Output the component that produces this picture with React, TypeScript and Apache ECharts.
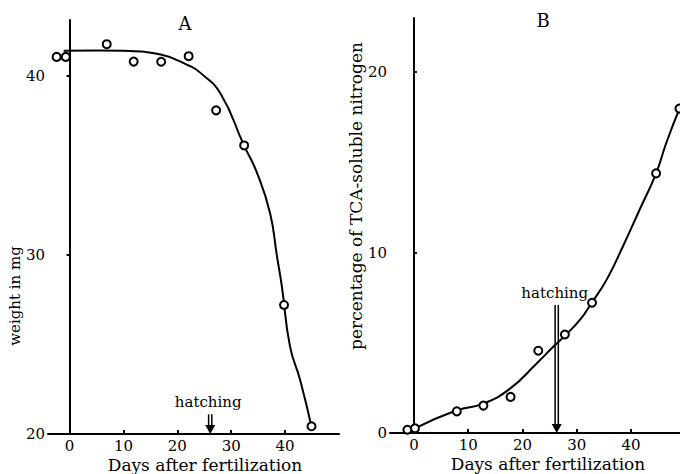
import React, { useEffect, useRef } from "react";
import * as echarts from "echarts";

// Panel A: weight (mg) vs days after fertilization
const daysA = [-2.4, -0.7, 6.9, 11.9, 17.0, 22.1, 27.2, 32.4, 39.8, 44.9];
const weightA = [41.04, 41.04, 41.75, 40.78, 40.77, 41.08, 38.06, 36.1, 27.2, 20.43];
const curveDaysA = [-1.1, 5, 10, 16.9, 22.4, 24.3, 28.0, 32.3, 34.8, 37.2, 38.5, 39.4, 40.9, 42.8, 44.9];
const curveWeightA = [41.38, 41.4, 41.38, 41.17, 40.52, 40.15, 39.0, 36.15, 34.56, 32.33, 29.9, 28.23, 24.9, 23.0, 20.4];

// Panel B: percentage of TCA-soluble nitrogen
const daysB = [-1.2, 0.2, 7.9, 12.8, 17.8, 22.9, 27.8, 32.8, 44.6, 48.9];
const tcaB = [0.18, 0.26, 1.2, 1.52, 2.0, 4.56, 5.46, 7.22, 14.39, 17.98];
const curveDaysB = [0.2, 7.9, 12.8, 17.7, 22.6, 25.7, 27.8, 30.6, 32.7, 35.5, 38.5, 41.6, 44.6, 46.5, 48.9];
const curveTcaB = [0.26, 1.26, 1.63, 2.46, 3.85, 4.79, 5.39, 6.28, 7.2, 8.5, 10.35, 12.4, 14.39, 16.1, 17.98];

const xTicks = [0, 10, 20, 30, 40];
const yTicksA = [20, 30, 40];
const yTicksB = [0, 10, 20];

// hatching marker: [day, arrow top value, arrow bottom value]
const hatchA = [[26.1, 21.1, 20]];
const hatchB = [[26.3, 7.1, 0]];

const FONT = "DejaVu Serif";

const pairs = (xs: number[], ys: number[]) => xs.map((x, i) => [x, ys[i]]);

const arrowRender = (params: any, api: any) => {
  const x = api.value(0);
  const top = api.coord([x, api.value(1)]);
  const bot = api.coord([x, api.value(2)]);
  const cx = top[0];
  const stroke = { stroke: "#000", lineWidth: 1.5 };
  return {
    type: "group",
    children: [
      { type: "line", shape: { x1: cx - 1.6, y1: top[1], x2: cx - 1.6, y2: bot[1] - 6 }, style: stroke },
      { type: "line", shape: { x1: cx + 1.6, y1: top[1], x2: cx + 1.6, y2: bot[1] - 6 }, style: stroke },
      {
        type: "polygon",
        shape: { points: [[cx - 5, bot[1] - 9], [cx + 5, bot[1] - 9], [cx, bot[1]]] },
        style: { fill: "#000" },
      },
      {
        type: "text",
        x: cx - 2,
        y: top[1] - 12,
        style: { text: "hatching", font: `15px "${FONT}"`, fill: "#000", align: "center", verticalAlign: "middle" },
      },
    ],
  };
};

const axisCommon = {
  axisLine: { lineStyle: { color: "#000", width: 2 } },
  splitLine: { show: false },
};

const curveStyle = { color: "#000", width: 2 };
const dotStyle = { color: "#fff", borderColor: "#000", borderWidth: 2, opacity: 1 };

export default function App() {
  const ref = useRef<HTMLDivElement>(null);
  useEffect(() => {
    const chart = echarts.init(ref.current!, null, { renderer: "svg" });
    chart.setOption({
      animation: false,
      backgroundColor: "#fff",
      grid: [
        { left: 48, top: 20, width: 291, height: 414 },
        { left: 390, top: 18, width: 290, height: 415 },
      ],
      xAxis: [
        {
          gridIndex: 0, type: "value", min: -4, max: 50, ...axisCommon,
          axisTick: { show: true, inside: true, length: 4, customValues: xTicks, lineStyle: { color: "#000", width: 2 } },
          axisLabel: { customValues: xTicks, color: "#000", fontFamily: FONT, fontSize: 15, margin: 4 },
        },
        {
          gridIndex: 1, type: "value", min: -4.4, max: 49, ...axisCommon,
          axisTick: { show: true, inside: true, length: 4, customValues: xTicks, lineStyle: { color: "#000", width: 2 } },
          axisLabel: { customValues: xTicks, color: "#000", fontFamily: FONT, fontSize: 15, margin: 4 },
        },
      ],
      yAxis: [
        {
          gridIndex: 0, type: "value", min: 20, max: 43.1, ...axisCommon,
          axisTick: { show: true, inside: false, length: 3, customValues: yTicksA, lineStyle: { color: "#000", width: 2 } },
          axisLabel: { customValues: yTicksA, color: "#000", fontFamily: FONT, fontSize: 15, margin: 3 },
        },
        {
          gridIndex: 1, type: "value", min: 0, max: 23, ...axisCommon,
          axisTick: { show: true, inside: true, length: 3, customValues: yTicksB, lineStyle: { color: "#000", width: 2 } },
          axisLabel: { customValues: yTicksB, color: "#000", fontFamily: FONT, fontSize: 15, margin: 3 },
        },
      ],
      graphic: [
        { type: "text", x: 185, y: 23, style: { text: "A", font: `18px "${FONT}"`, fill: "#000", align: "center", verticalAlign: "middle" } },
        { type: "text", x: 543, y: 20, style: { text: "B", font: `18px "${FONT}"`, fill: "#000", align: "center", verticalAlign: "middle" } },
        { type: "text", x: 15, y: 296, rotation: Math.PI / 2, style: { text: "weight in mg", font: `15px "${FONT}"`, fill: "#000", align: "center", verticalAlign: "middle" } },
        { type: "text", x: 356, y: 196, rotation: Math.PI / 2, style: { text: "percentage of TCA-soluble nitrogen", font: `17px "${FONT}"`, fill: "#000", align: "center", verticalAlign: "middle" } },
        { type: "text", x: 205, y: 465, style: { text: "Days after fertilization", font: `17px "${FONT}"`, fill: "#000", align: "center", verticalAlign: "middle" } },
        { type: "text", x: 548, y: 464, style: { text: "Days after fertilization", font: `17px "${FONT}"`, fill: "#000", align: "center", verticalAlign: "middle" } },
      ],
      series: [
        {
          type: "line", xAxisIndex: 0, yAxisIndex: 0, data: pairs(curveDaysA, curveWeightA),
          smooth: 0.5, showSymbol: false, lineStyle: curveStyle,
        },
        {
          type: "scatter", xAxisIndex: 0, yAxisIndex: 0, data: pairs(daysA, weightA),
          symbol: "circle", symbolSize: 8, itemStyle: dotStyle, z: 5,
        },
        { type: "custom", xAxisIndex: 0, yAxisIndex: 0, data: hatchA, renderItem: arrowRender, clip: false },
        {
          type: "line", xAxisIndex: 1, yAxisIndex: 1, data: pairs(curveDaysB, curveTcaB),
          smooth: 0.5, showSymbol: false, lineStyle: curveStyle,
        },
        {
          type: "scatter", xAxisIndex: 1, yAxisIndex: 1, data: pairs(daysB, tcaB),
          symbol: "circle", symbolSize: 8, itemStyle: dotStyle, z: 5,
        },
        { type: "custom", xAxisIndex: 1, yAxisIndex: 1, data: hatchB, renderItem: arrowRender, clip: false },
      ],
    });
    return () => chart.dispose();
  }, []);
  return <div ref={ref} style={{ width: 680, height: 474, position: "absolute", left: 0, top: 0 }} />;
}
